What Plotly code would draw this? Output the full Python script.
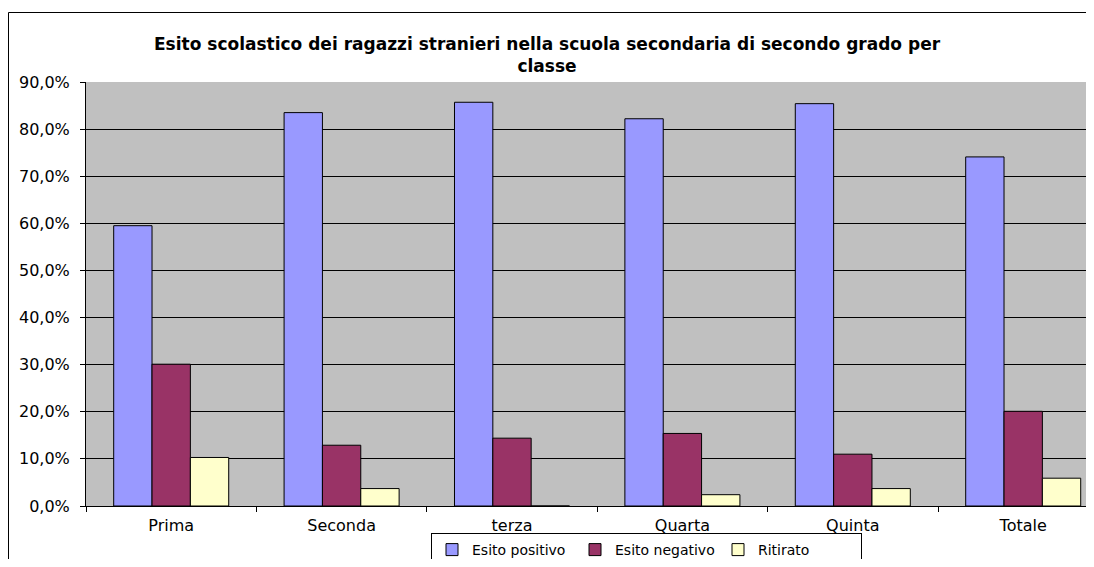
import plotly.graph_objects as go

categories = ["Prima", "Seconda", "terza", "Quarta", "Quinta", "Totale"]
esito_positivo = [0.595, 0.835, 0.857, 0.822, 0.854, 0.741]
esito_negativo = [0.301, 0.129, 0.144, 0.154, 0.110, 0.201]
ritirato = [0.103, 0.037, 0.0, 0.024, 0.037, 0.059]
series_names = ["Esito positivo", "Esito negativo", "Ritirato"]
series_colors = ["#9999FF", "#993366", "#FFFFCC"]
y_ticks = [0.0, 0.1, 0.2, 0.3, 0.4, 0.5, 0.6, 0.7, 0.8, 0.9]

title_text = ("<b>Esito scolastico dei ragazzi stranieri nella scuola secondaria di secondo grado per</b>"
              "<br><b>classe</b>")

# The page body has an 8px margin, so the figure is drawn at (8, 8) on screen.
OFF = 8
W, H = 1094 - 2 * OFF, 567 - 2 * OFF
L, R, T, B = 78, 0, 74, 53
PLOT_W = W - L - R
PLOT_H = H - T - B
Y0 = H - B  # figure pixel y of the x axis
CAT_PX = 170.4


def px_x(sx):
    """screen x -> paper x"""
    return (sx - OFF - L) / PLOT_W


def px_y(sy):
    """screen y -> paper y"""
    return (Y0 - (sy - OFF)) / PLOT_H


fig = go.Figure()
for name, vals, col in zip(series_names, [esito_positivo, esito_negativo, ritirato], series_colors):
    fig.add_trace(go.Bar(
        x=categories, y=vals, name=name,
        marker=dict(color=col, line=dict(color="#000000", width=1)),
    ))

font_main = "DejaVu Sans"

fig.update_layout(
    width=W, height=H,
    margin=dict(l=L, r=R, t=T, b=B, autoexpand=False),
    paper_bgcolor="#FFFFFF",
    plot_bgcolor="#C0C0C0",
    separators=",.",
    barmode="group",
    bargap=0.325,
    bargroupgap=0,
    font=dict(family=font_main, size=16, color="#000000"),
    xaxis=dict(
        type="category",
        range=[-0.5, -0.5 + PLOT_W / CAT_PX],
        autorange=False,
        showline=True, linecolor="#000000", linewidth=1,
        ticks="outside", tickson="boundaries", ticklen=5, tickcolor="#000000",
        showgrid=False,
        tickfont=dict(family=font_main, size=16, color="#000000"),
        ticklabelstandoff=5,
        fixedrange=True,
    ),
    yaxis=dict(
        range=[0, 0.9],
        autorange=False,
        tickvals=y_ticks,
        tickformat=".1%",
        showline=True, linecolor="#000000", linewidth=1,
        ticks="outside", ticklen=5, tickcolor="#000000",
        showgrid=True, gridcolor="#000000", gridwidth=1,
        zeroline=False,
        tickfont=dict(family=font_main, size=16, color="#000000"),
        ticklabelstandoff=7,
        fixedrange=True,
    ),
    legend=dict(
        orientation="h",
        x=px_x(646.5), xanchor="center",
        y=px_y(533), yanchor="top",
        bgcolor="#FFFFFF",
        bordercolor="#000000", borderwidth=1,
        font=dict(family=font_main, size=14, color="#000000"),
        entrywidth=98, entrywidthmode="pixels",
        itemclick=False, itemdoubleclick=False,
    ),
    showlegend=True,
    annotations=[
        dict(
            text=title_text, xref="paper", yref="paper",
            x=px_x(547), y=px_y(55), xanchor="center", yanchor="middle",
            showarrow=False,
            font=dict(family=font_main, size=17, color="#000000"),
        ),
    ],
    shapes=[
        dict(
            type="rect", xref="paper", yref="paper",
            x0=px_x(8.5), x1=px_x(1120), y0=px_y(620), y1=px_y(12.5),
            line=dict(color="#000000", width=1),
            fillcolor="rgba(0,0,0,0)", layer="below",
        ),
    ],
)

fig.write_html("out.html")
